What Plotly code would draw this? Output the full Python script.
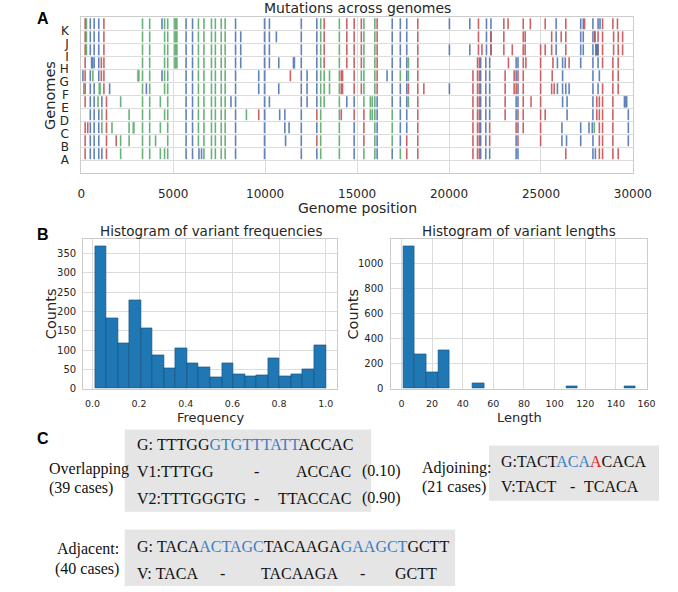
import plotly.graph_objects as go
import numpy as np

W, H = 678, 592

# ---------------- Panel A data (genome positions of mutations) ----------------
genomes = ["A", "B", "C", "D", "E", "F", "G", "H", "I", "J", "K"]

green_sites = {
    "K": [280, 3330, 3720, 4530, 4700, 6370, 6670, 7080, 7290, 7610, 7825, 13020, 14035, 15370, 15965],
    "J": [280, 3330, 3720, 4530, 4700, 6370, 6670, 7080, 7290, 7610, 7825, 13020, 14035, 15370, 15965],
    "I": [280, 3330, 3720, 4530, 4700, 6370, 6670, 7080, 7290, 7610, 7825, 13020, 14035, 15370, 15965],
    "H": [3330, 3720, 4530, 4700, 6370, 6670, 7080, 7290, 7610, 7825, 13020, 14035, 15370, 15965, 17790],
    "G": [630, 3330, 3720, 4530, 4700, 6370, 6670, 7080, 7290, 7610, 7825, 13020, 13210, 13500, 14035,
          15230, 15370, 15965, 17350, 17790],
    "F": [140, 3330, 3720, 4530, 4700, 6370, 6670, 7080, 7290, 7610, 7825, 13020, 13210, 13500, 14035,
          15370, 15965],
    "E": [910, 2140, 3330, 3720, 4300, 4700, 6370, 6670, 7080, 7290, 7610, 7825, 13020, 13210, 14035,
          15370, 15720, 15825, 15965, 17790],
    "D": [1120, 2600, 3330, 3720, 4530, 4700, 6370, 6670, 7080, 7290, 7610, 7825, 8980, 13020, 14035,
          15720, 15825, 15965, 16910],
    "C": [1120, 1670, 2600, 3330, 3720, 4300, 4700, 6370, 6670, 7080, 7290, 7610, 7825, 13020, 14035,
          15965, 16910, 27900],
    "B": [2140, 2600, 3330, 3720, 4040, 4700, 6370, 6670, 7080, 7290, 7610, 7825, 13020, 14035, 15965, 16910],
    "A": [2140, 3330, 3720, 4300, 4530, 4700, 6670, 7080, 7290, 7610, 7825, 13020, 14035, 15370, 15965, 17350],
}

blue_sites = {
    "K": [490, 700, 950, 4390, 5700, 6050, 8390, 9965, 10230, 11965, 12810, 16910, 17350, 17700, 20020,
          21130, 22035, 22280, 25825, 27160, 27300, 27825, 28105, 28210],
    "J": [490, 700, 950, 5700, 6050, 8390, 8670, 9965, 10230, 10610, 11965, 12810, 16910, 17350, 17700,
          22035, 22280, 25825, 27160, 27300, 27825, 27930],
    "I": [490, 700, 950, 5700, 6050, 8390, 8670, 9965, 10230, 11965, 12810, 16910, 17350, 17700, 20020,
          21130, 22035, 22280, 25825, 27160, 27300, 27825, 28000],
    "H": [700, 950, 5700, 6050, 8390, 8670, 9965, 10230, 10740, 11965, 12810, 16910, 17350, 17700, 21720,
          22000, 22210, 23650, 23750, 25895, 26175, 26320, 27160, 27825, 28105],
    "G": [90, 490, 950, 4390, 5700, 6050, 8390, 9650, 9965, 11965, 12280, 12810, 16630, 16910, 17700,
          21720, 22000, 22210, 23650, 26175, 27825, 28175],
    "F": [490, 700, 1540, 3540, 5700, 6050, 8390, 9650, 9965, 10740, 11965, 12280, 12810, 16910, 17350,
          17700, 20020, 21720, 22000, 22210, 23750, 25895, 26175, 26350, 26530, 27825, 28105],
    "E": [490, 700, 1120, 5700, 6050, 8140, 8390, 9965, 10230, 11965, 12280, 12810, 14440, 14840, 16090,
          16910, 17350, 17700, 21720, 22000, 22210, 23650, 23750, 26175, 26420, 27825],
    "D": [490, 700, 950, 5700, 6050, 8390, 9965, 10790, 11070, 11965, 16090, 17350, 17700, 21720, 22000,
          22210, 23650, 26420, 27825, 29750],
    "C": [490, 700, 950, 5700, 6050, 8390, 9965, 11070, 11300, 11965, 12810, 14840, 16090, 17350, 17700,
          21720, 22000, 23750, 26140, 27160, 27610, 27790, 29750],
    "B": [490, 700, 950, 5700, 6050, 8390, 9965, 11110, 11965, 14840, 16090, 17350, 21720, 22000, 23650,
          26140, 26390, 27160, 27825, 29750],
    "A": [490, 700, 950, 1120, 5700, 6050, 6400, 6540, 8390, 9965, 11965, 12810, 14840, 16090, 16910,
          21720, 22000, 22210, 23650, 23750, 27825, 27960],
}

red_sites = {
    "K": [210, 1230, 13210, 14440, 14840, 15230, 16090, 18300, 21600, 22980, 23210, 24035, 24420, 25230,
          26350, 27370, 28350, 28910, 29160],
    "J": [210, 1230, 13210, 14440, 14840, 15230, 16090, 18300, 21600, 22280, 22980, 24035, 24140, 25580,
          26100, 26350, 27930, 28105, 28350, 28950, 29200, 29440],
    "I": [210, 1230, 13210, 14440, 14840, 15230, 16090, 18300, 21600, 21790, 22280, 22980, 23440, 24035,
          24140, 24980, 25230, 25580, 26350, 28100, 28350, 28950, 29200, 29440],
    "H": [210, 1090, 1230, 13210, 14440, 14840, 15230, 16090, 18300, 21550, 21650, 23230, 24035, 24180,
          24980, 25650, 26530, 28350, 28910, 29200],
    "G": [210, 1090, 1230, 11370, 14140, 14210, 14840, 16090, 18300, 21300, 21550, 21650, 23050, 23540,
          23750, 24035, 24980, 25610, 28910, 29200],
    "F": [210, 1230, 14140, 14210, 14840, 15230, 16090, 17790, 18300, 18630, 21300, 21550, 21650, 23050,
          23540, 23650, 24035, 24980, 25580, 25720, 28350, 28910, 29200],
    "E": [210, 1370, 18300, 21300, 21550, 21650, 23050, 24035, 24460, 24980, 28035, 28175, 28350, 28910],
    "D": [1370, 9650, 12810, 14140, 14840, 15370, 18300, 21300, 21550, 21650, 23050, 23750, 24035, 24980,
          25230, 28035, 28175, 28350, 28910],
    "C": [210, 350, 1370, 15370, 18300, 21300, 21550, 21650, 22210, 23650, 24035, 24980, 28175, 28350, 28910],
    "B": [210, 1370, 1900, 12810, 15370, 17700, 18300, 21300, 21550, 21650, 22210, 23750, 24980, 28175,
          28350, 28910],
    "A": [210, 1370, 17700, 18300, 21300, 21550, 21650, 26350, 28175, 28350, 28910, 29200],
}

# wider mutated stretches (genome, start, end, kind)
block_genome = ["K", "J", "I", "H", "H", "G", "F", "H", "E", "C", "I"]
block_start = [5050, 5050, 5050, 5050, 530, 3050, 950, 11510, 29510, 2800, 27960]
block_end = [5230, 5230, 5230, 5230, 640, 3160, 1060, 11620, 29690, 2890, 28120]
block_kind = ["green", "green", "green", "green", "blue", "green", "green", "blue", "blue", "green", "blue"]

genome_ticks = [0, 5000, 10000, 15000, 20000, 25000, 30000]

# ---------------- Panel B data ----------------
freq_counts = [368, 182, 117, 229, 157, 87, 52, 105, 65, 56, 30, 66, 38, 33, 35, 79, 31, 38, 51, 112]
freq_min, freq_max = 0.01, 1.0
len_counts = [1140, 280, 130, 310, 0, 0, 45, 0, 0, 0, 0, 0, 0, 0, 20, 0, 0, 0, 0, 20]
len_min, len_max = 1, 153

COLORS = {"green": "#55a868", "blue": "#4c72b0", "red": "#c44e52"}
TXT = "#262626"


def X(px):
    return px / W


def Y(py):
    return 1 - py / H


fig = go.Figure()

# --- panel A event lines ---
for kind, sites in [("green", green_sites), ("blue", blue_sites), ("red", red_sites)]:
    xs, ys = [], []
    for gi, g in enumerate(genomes):
        for p in sites.get(g, []):
            xs += [p, p, None]
            ys += [gi + 0.08, gi + 0.92, None]
    fig.add_trace(go.Scatter(x=xs, y=ys, mode="lines", line=dict(color=COLORS[kind], width=1.6),
                             opacity=0.88, hoverinfo="skip", showlegend=False, xaxis="x", yaxis="y"))

for kind in ["green", "blue"]:
    xs, ys = [], []
    for g, s, e, k in zip(block_genome, block_start, block_end, block_kind):
        if k != kind:
            continue
        gi = genomes.index(g)
        xs += [s, e, e, s, s, None]
        ys += [gi + 0.08, gi + 0.08, gi + 0.92, gi + 0.92, gi + 0.08, None]
    fig.add_trace(go.Scatter(x=xs, y=ys, mode="lines", fill="toself", fillcolor=COLORS[kind],
                             line=dict(color=COLORS[kind], width=0.5), opacity=0.88,
                             hoverinfo="skip", showlegend=False, xaxis="x", yaxis="y"))

# --- panel B histograms ---
fe = np.linspace(freq_min, freq_max, len(freq_counts) + 1)
fc = (fe[:-1] + fe[1:]) / 2
fw = fe[1] - fe[0]
fig.add_trace(go.Bar(x=fc, y=freq_counts, width=fw,
                     marker=dict(color="#1f77b4", line=dict(color="#1a4f78", width=0.6)),
                     hoverinfo="skip", showlegend=False, xaxis="x2", yaxis="y2"))

le = np.linspace(len_min, len_max, len(len_counts) + 1)
lc = (le[:-1] + le[1:]) / 2
lw = le[1] - le[0]
nz = [i for i, c in enumerate(len_counts) if c > 0]
fig.add_trace(go.Bar(x=[lc[i] for i in nz], y=[len_counts[i] for i in nz], width=lw,
                     marker=dict(color="#1f77b4", line=dict(color="#1a4f78", width=0.6)),
                     hoverinfo="skip", showlegend=False, xaxis="x3", yaxis="y3"))

axcommon = dict(showline=True, linecolor="#cccccc", linewidth=1, mirror=True, gridcolor="#dcdcdc",
                gridwidth=1, zeroline=False, ticks="", fixedrange=True)

fig.update_layout(
    width=W, height=H, margin=dict(l=0, r=0, t=0, b=0), autosize=False,
    paper_bgcolor="white", plot_bgcolor="white",
    font=dict(family="DejaVu Sans", color=TXT),
    bargap=0,
    xaxis=dict(domain=[X(80), X(651)], range=[0, 30000], tickvals=genome_ticks,
               ticktext=[str(v) for v in genome_ticks], tickfont=dict(size=12, color=TXT),
               ticklabelstandoff=9, anchor="y", **axcommon),
    yaxis=dict(domain=[Y(175), Y(17.5)], range=[-1, 11], tickvals=list(range(len(genomes))),
               ticktext=genomes, tickfont=dict(size=12, color=TXT), ticklabelstandoff=9,
               anchor="x", **axcommon),
    xaxis2=dict(domain=[X(82), X(345)], range=[-0.0395, 1.0495], tickvals=[0, 0.2, 0.4, 0.6, 0.8, 1.0],
                ticktext=["0.0", "0.2", "0.4", "0.6", "0.8", "1.0"], tickfont=dict(size=9.5, color=TXT),
                ticklabelstandoff=6, anchor="y2", **axcommon),
    yaxis2=dict(domain=[Y(392.7), Y(241.7)], range=[0, 386.4], tickvals=list(range(0, 351, 50)),
                tickfont=dict(size=10, color=TXT), ticklabelstandoff=4, anchor="x2", **axcommon),
    xaxis3=dict(domain=[X(401), X(666)], range=[-6.6, 160.6], tickvals=list(range(0, 161, 20)),
                tickfont=dict(size=9.5, color=TXT), ticklabelstandoff=6, anchor="y3", **axcommon),
    yaxis3=dict(domain=[Y(392.7), Y(241.7)], range=[0, 1197], tickvals=list(range(0, 1001, 200)),
                tickfont=dict(size=10, color=TXT), ticklabelstandoff=5, anchor="x3", **axcommon),
)

ann = []


def txt(x, y, s, size, xanchor="center", family="DejaVu Sans", color=TXT, angle=0, bold=False):
    if bold:
        s = "<b>" + s + "</b>"
    ann.append(dict(x=X(x), y=Y(y), xref="paper", yref="paper", text=s, showarrow=False,
                    xanchor=xanchor, yanchor="middle", textangle=angle, borderpad=0,
                    font=dict(size=size, family=family, color=color)))


# panel letters and titles
txt(40, 19, "A", 16, family="Liberation Sans", color="black", bold=True)
txt(40, 237, "B", 16, family="Liberation Sans", color="black", bold=True)
txt(40, 443, "C", 16, family="Liberation Sans", color="black", bold=True)

txt(365.5, 8.5, "Mutations across genomes", 14)
txt(365.5, 210, "Genome position", 14)
txt(47, 96.5, "Genomes", 14.5, angle=-90)

txt(214, 233.5, "Histogram of variant frequencies", 13.5)
txt(533.5, 233.5, "Histogram of variant lengths", 13.5)
txt(48, 317, "Counts", 14.5, angle=-90)
txt(361, 317, "Counts", 14.5, angle=-90)
txt(214, 421.5, "Frequency", 13)
txt(533.7, 421.5, "Length", 13)

# panel C
SER = "Liberation Serif"
BLUE = "#3b7fc4"
RED = "#e3231c"
shapes = []
for (x0, y0, x1, y1) in [(125, 434, 380, 517), (502, 450, 678, 506), (125, 535, 467, 592)]:
    shapes.append(dict(type="rect", xref="paper", yref="paper", x0=X(x0), x1=X(x1), y0=Y(y1), y1=Y(y0),
                       fillcolor="#e5e5e5", line=dict(width=0), layer="below"))


def b(s):
    return '<span style="color:%s">%s</span>' % (BLUE, s)


def r(s):
    return '<span style="color:%s">%s</span>' % (RED, s)


K = "#111111"
txt(45.7, 473.5, "Overlapping", 16, xanchor="left", family=SER, color=K)
txt(45.7, 492.5, "(39 cases)", 16, xanchor="left", family=SER, color=K)
txt(136.7, 449.5, "G:&#160;TTTGG" + b("GTGTTTATT") + "ACCAC", 16, xanchor="left", family=SER, color=K)
txt(136.7, 476, "V1:TTTGG", 16, xanchor="left", family=SER, color=K)
txt(261.7, 476, "-", 16, family=SER, color=K)
txt(360, 476, "ACCAC", 16, xanchor="right", family=SER, color=K)
txt(370, 476, "(0.10)", 16, xanchor="left", family=SER, color=K)
txt(136.7, 503.5, "V2:TTTGGGTG", 16, xanchor="left", family=SER, color=K)
txt(261.7, 503.5, "-", 16, family=SER, color=K)
txt(360, 503.5, "TTACCAC", 16, xanchor="right", family=SER, color=K)
txt(370, 503.5, "(0.90)", 16, xanchor="left", family=SER, color=K)

txt(431.7, 472.5, "Adjoining:", 16, xanchor="left", family=SER, color=K)
txt(431.7, 491.5, "(21 cases)", 16, xanchor="left", family=SER, color=K)
txt(513.3, 466, "G:TACT" + b("ACA") + r("A") + "CACA", 16, xanchor="left", family=SER, color=K)
txt(513.3, 491.5, "V:TACT", 16, xanchor="left", family=SER, color=K)
txt(588.3, 491.5, "-", 16, family=SER, color=K)
txt(658.3, 491.5, "TCACA", 16, xanchor="right", family=SER, color=K)

txt(120.5, 555, "Adjacent:", 16, xanchor="right", family=SER, color=K)
txt(120.5, 575, "(40 cases)", 16, xanchor="right", family=SER, color=K)
txt(136.7, 552, "G:&#160;TACA" + b("ACTAGC") + "TACAAGA" + b("GAAGCT") + "GCTT", 16, xanchor="left",
    family=SER, color=K)
txt(136.7, 579, "V:&#160;TACA", 16, xanchor="left", family=SER, color=K)
txt(225.7, 579, "-", 16, family=SER, color=K)
txt(265, 579, "TACAAGA", 16, xanchor="left", family=SER, color=K)
txt(370.7, 579, "-", 16, family=SER, color=K)
txt(449.3, 579, "GCTT", 16, xanchor="right", family=SER, color=K)

fig.update_layout(annotations=ann, shapes=shapes)
fig.write_html("out.html", post_script="document.body.style.margin='0';")
